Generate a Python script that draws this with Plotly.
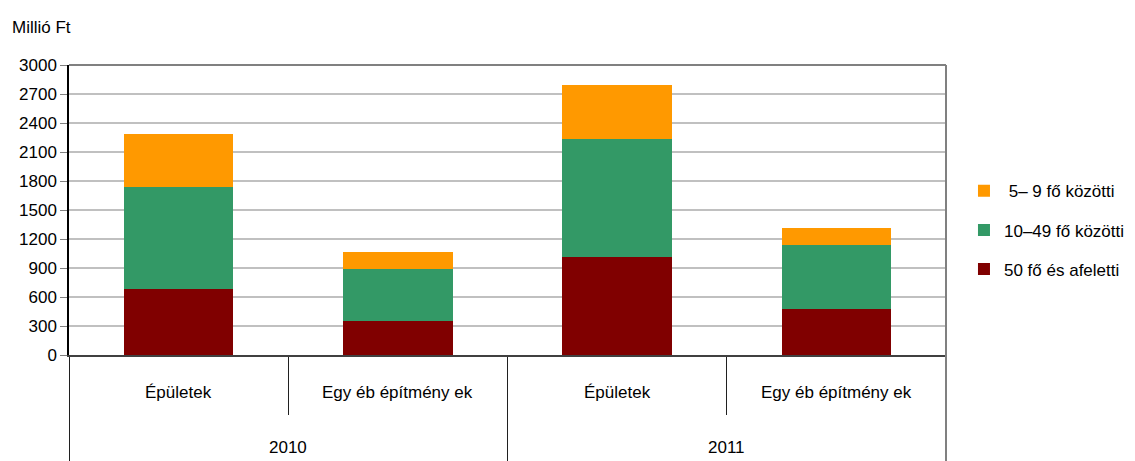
import plotly.graph_objects as go

years = ["2010", "2011"]
types = ["Épületek", "Egy éb építmény ek", "Épületek", "Egy éb építmény ek"]
red_50 = [680, 349, 1011, 473]
green_10_49 = [1055, 538, 1220, 662]
orange_5_9 = [548, 175, 559, 176]

series = [
    ("50 fő és afeletti", red_50, "#800000", 3),
    ("10–49 fő közötti", green_10_49, "#339966", 2),
    ("\u00a05– 9 fő közötti", orange_5_9, "#FF9900", 1),
]

FONT = "Liberation Sans, Arial, sans-serif"
pos = list(range(len(types)))

# The page body has an 8px default margin, so the figure is shrunk by 8px
# and margins reduced accordingly to place the plot area like the reference.
PLOT_H = 290

fig = go.Figure()
for name, vals, color, rank in series:
    fig.add_trace(go.Bar(
        x=pos, y=vals, name=name,
        marker=dict(color=color, line=dict(width=0)),
        legendrank=rank, legendgroup=name,
    ))

annotations = [dict(text="Millió Ft", xref="paper", yref="paper", x=-0.0673, y=1.131,
                    xanchor="left", yanchor="middle", showarrow=False, font=dict(size=17))]
for i, t in enumerate(types):
    annotations.append(dict(text=t, xref="x", yref="paper", x=i, y=-37 / PLOT_H,
                            xanchor="center", yanchor="middle", showarrow=False,
                            font=dict(size=17)))
for j, yr in enumerate(years):
    annotations.append(dict(text=yr, xref="x", yref="paper", x=2 * j + 0.5, y=-92 / PLOT_H,
                            xanchor="center", yanchor="middle", showarrow=False,
                            font=dict(size=17)))

fig.update_layout(
    barmode="stack",
    bargap=0.5,
    width=1127, height=453,
    margin=dict(l=61, r=189, t=57, b=106, autoexpand=False),
    plot_bgcolor="white", paper_bgcolor="white",
    font=dict(family=FONT, size=17, color="black"),
    showlegend=True,
    legend=dict(
        traceorder="grouped", tracegroupgap=14,
        x=1.0205, y=0.43, xanchor="left", yanchor="middle",
        font=dict(size=17),
    ),
    xaxis=dict(
        range=[-0.5, 3.5], automargin=False,
        tickmode="array", tickvals=[-0.5, 1.5, 3.5], showticklabels=False,
        ticks="outside", ticklen=106, tickcolor="#202020", tickwidth=1,
        minor=dict(tickmode="array", tickvals=[0.5, 2.5], ticks="outside",
                   ticklen=58, tickcolor="#202020", tickwidth=1),
        showline=True, linecolor="#404040", linewidth=2,
        showgrid=False, zeroline=False,
    ),
    yaxis=dict(
        range=[0, 3000], dtick=300, tick0=0, automargin=False,
        showgrid=True, gridcolor="#c0c0c0", gridwidth=1.5,
        showline=True, linecolor="black", linewidth=1.5,
        ticks="outside", ticklen=7, tickcolor="#808080",
        zeroline=False,
        tickfont=dict(size=17),
    ),
    shapes=[
        dict(type="line", xref="paper", yref="paper", x0=0, x1=1, y0=1, y1=1,
             line=dict(color="#808080", width=2)),
        dict(type="line", xref="paper", yref="paper", x0=1, x1=1, y0=-106 / PLOT_H, y1=1,
             line=dict(color="#808080", width=2)),
    ],
    annotations=annotations,
)

fig.write_html("out.html")
